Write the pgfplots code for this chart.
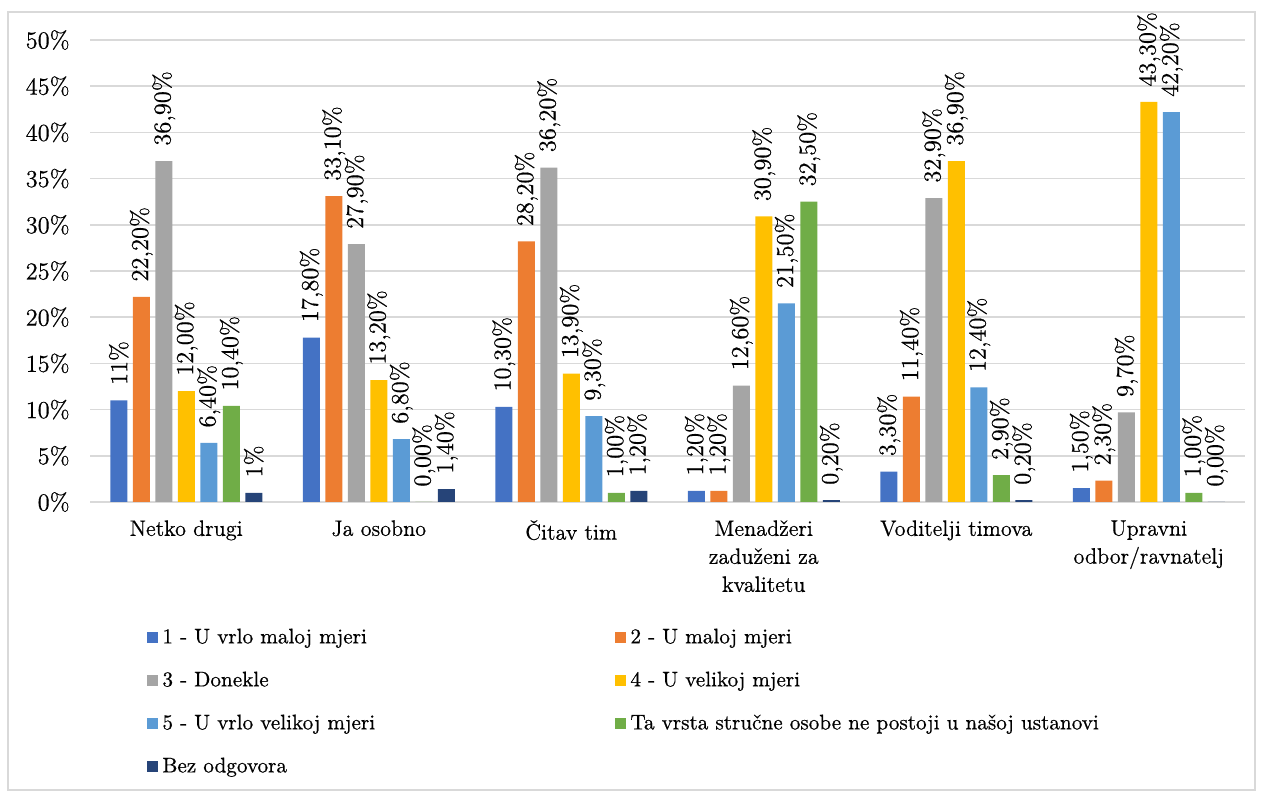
\documentclass[border=0pt]{standalone}
\usepackage{pgfplots}
\pgfplotsset{compat=1.18}
\usepackage{pgfplotstable}
\usepackage{fontspec}
\setmainfont{Latin Modern Roman}[FakeBold=0.6]

\definecolor{c1}{HTML}{4472C4}
\definecolor{c2}{HTML}{ED7D31}
\definecolor{c3}{HTML}{A5A5A5}
\definecolor{c4}{HTML}{FFC000}
\definecolor{c5}{HTML}{5B9BD5}
\definecolor{c6}{HTML}{70AD47}
\definecolor{c7}{HTML}{264478}
\definecolor{gridc}{HTML}{D9D9D9}

% values in percent, with the label text printed above each bar
\pgfplotstableread{
x y1   l1    y2   l2    y3   l3    y4   l4    y5   l5    y6   l6    y7  l7
0 11.0 11    22.2 22,20 36.9 36,90 12.0 12,00 6.4  6,40  10.4 10,40 1.0 1
1 17.8 17,80 33.1 33,10 27.9 27,90 13.2 13,20 6.8  6,80  0.0  0,00  1.4 1,40
2 10.3 10,30 28.2 28,20 36.2 36,20 13.9 13,90 9.3  9,30  1.0  1,00  1.2 1,20
3 1.2  1,20  1.2  1,20  12.6 12,60 30.9 30,90 21.5 21,50 32.5 32,50 0.2 0,20
4 3.3  3,30  11.4 11,40 32.9 32,90 36.9 36,90 12.4 12,40 2.9  2,90  0.2 0,20
5 1.5  1,50  2.3  2,30  9.7  9,70  43.3 43,30 42.2 42,20 1.0  1,00  0.0 0,00
}\datatable

\newcommand{\numfont}{\fontsize{12.2}{14}\selectfont}
\newcommand{\txtfont}{\fontsize{11.1}{14}\selectfont}
\newcommand{\legfont}{\fontsize{10.6}{13}\selectfont}

\begin{document}
\begin{tikzpicture}
\path[use as bounding box] (0pt,0pt) rectangle (631pt,395.5pt);
\draw[gridc, line width=0.75pt] (4pt,0.5pt) rectangle (627.5pt,389.5pt);
\begin{axis}[
  at={(45pt,144.5pt)}, anchor=south west,
  scale only axis, width=577.5pt, height=231pt,
  ybar=2.75pt, bar width=8.5pt,
  xmin=-0.5, xmax=5.5, ymin=0, ymax=50,
  xtick={0,1,2,3,4,5},
  xticklabels={Netko drugi, Ja osobno, Čitav tim, {Menadžeri\\zaduženi za\\kvalitetu}, Voditelji timova, {Upravni\\odbor/ravnatelj}},
  ytick={0,5,...,50},
  yticklabel={\pgfmathprintnumber[assume math mode=true]{\tick}\%},
  axis line style={draw=none},
  major tick length=0pt,
  ymajorgrids, grid style={gridc, line width=0.75pt},
  yticklabel style={font=\numfont, inner xsep=0pt, xshift=-10pt},
  xticklabel style={font=\txtfont, align=center, anchor=north, inner sep=0pt, yshift=-9pt},
  nodes near coords={\pgfplotspointmeta\%},
  point meta=explicit symbolic,
  every node near coord/.append style={rotate=90, anchor=west, inner xsep=7.5pt, inner ysep=0pt, font=\numfont, text=black},
  legend columns=2,
  legend style={at={(0.0494,-0.2706)}, anchor=north west, draw=none, fill=none,
    inner sep=0pt, row sep=11pt, column sep=0pt, font=\legfont,
    cells={anchor=west},
    nodes={inner xsep=2pt, inner ysep=0pt, text height=8pt, text depth=2.5pt}},
  legend image code/.code={\fill[#1] (0pt,-2.75pt) rectangle (5.5pt,2.75pt);},
]
\addplot[fill=c1, draw=none] table[x=x, y=y1, meta=l1] {\datatable};
\addplot[fill=c2, draw=none] table[x=x, y=y2, meta=l2] {\datatable};
\addplot[fill=c3, draw=none] table[x=x, y=y3, meta=l3] {\datatable};
\addplot[fill=c4, draw=none] table[x=x, y=y4, meta=l4] {\datatable};
\addplot[fill=c5, draw=none] table[x=x, y=y5, meta=l5] {\datatable};
\addplot[fill=c6, draw=none] table[x=x, y=y6, meta=l6] {\datatable};
\addplot[fill=c7, draw=none] table[x=x, y=y7, meta=l7] {\datatable};
\legend{\makebox[224.5pt][l]{1 - U vrlo maloj mjeri}, 2 - U maloj mjeri,
  \makebox[224.5pt][l]{3 - Donekle}, 4 - U velikoj mjeri,
  \makebox[224.5pt][l]{5 - U vrlo velikoj mjeri}, Ta vrsta stručne osobe ne postoji u našoj ustanovi,
  Bez odgovora}
\end{axis}
\end{tikzpicture}
\end{document}
